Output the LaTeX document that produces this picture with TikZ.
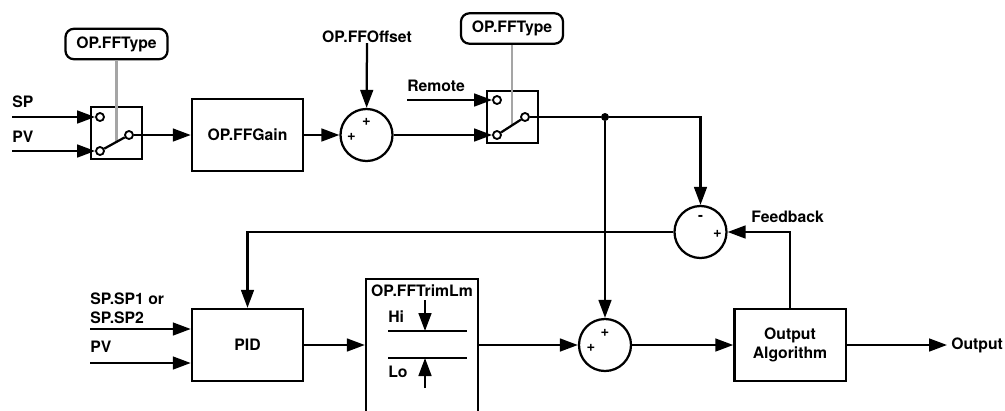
\documentclass[tikz,border=0pt]{standalone}
\usepackage{fontspec}
\setmainfont{TeX Gyre Heros}
\usepackage{tikz}
\usetikzlibrary{arrows.meta,calc}
\definecolor{ffgray}{RGB}{165,165,165}
\tikzset{
  ffblock/.style={draw, line width=1.6pt, minimum width=2.78cm, minimum height=1.8cm,
    inner sep=0pt, align=center},
  ffsum/.style={draw, circle, line width=1.6pt, minimum size=1.3cm, inner sep=0pt},
  ffsel/.style={draw, line width=1.6pt, rounded corners=6pt, minimum width=2.55cm,
    minimum height=0.76cm, inner sep=0pt},
  ffswitch/.style={draw, line width=1.6pt, minimum width=1.28cm, minimum height=1.3cm,
    inner sep=0pt},
  ffpin/.style={draw, circle, fill=white, line width=1.3pt, minimum size=0.2cm, inner sep=0pt},
  ffdot/.style={fill, circle, minimum size=0.2cm, inner sep=0pt},
  fflabel/.style={inner sep=0pt, align=left},
  ffsign/.style={inner sep=0pt, font=\bfseries\fontsize{10.5}{12}\selectfont},
  ffline/.style={line width=1.6pt},
  ffarrow/.style={-{Triangle[length=0.45cm,width=0.32cm]}, line width=1.6pt},
  ffctl/.style={line width=1.7pt, draw=ffgray}
}
\begin{document}
\begin{tikzpicture}[x=0.025cm, y=-0.025cm, font=\bfseries\fontsize{11.2}{13.8}\selectfont]
  \useasboundingbox (0,0) rectangle (1005,410);
  % feedforward path
  \node[ffsel] (typeA) at (116.5,44) {OP.FFType};
  \node[ffswitch] (swA) at (116.5,133) {};
  \node[ffpin] (swAi1) at (100,117) {};
  \node[ffpin] (swAi2) at (100,151) {};
  \node[ffpin] (swAo) at (129,135) {};
  \node[fflabel, anchor=west] (spA) at (12,102) {SP};
  \node[fflabel, anchor=west] (pvA) at (12,137) {PV};
  \coordinate (spAin) at (12,117);
  \coordinate (pvAin) at (12,151);
  \node[ffblock] (gain) at (247.5,135) {OP.FFGain};
  \node[ffsum] (sumA) at (366.5,135) {};
  \node[ffsign] at ($(sumA)+(0,-13)$) {+};
  \node[ffsign] at ($(sumA)+(-15,2)$) {+};
  \node[fflabel] (offs) at (367,37) {OP.FFOffset};
  \node[ffsel] (typeB) at (512,28.5) {OP.FFType};
  \node[ffswitch] (swB) at (512.5,117) {};
  \node[ffpin] (swBi1) at (497,100) {};
  \node[ffpin] (swBi2) at (497,135) {};
  \node[ffpin] (swBo) at (525,117) {};
  \node[fflabel, anchor=west] (remote) at (407,86) {Remote};
  \coordinate (remin) at (407,100);
  \node[ffdot] (jn) at (605,117) {};
  % control loop
  \node[ffsum] (sumB) at (700.5,232) {};
  \node[ffsign] at ($(sumB)+(0,-14)$) {-};
  \node[ffsign] at ($(sumB)+(17,2)$) {+};
  \node[fflabel, anchor=west] (fb) at (751,217) {Feedback};
  \node[ffblock] (pid) at (247.5,345) {PID};
  \node[fflabel, anchor=west] (sppid) at (90,308) {SP.SP1 or\\SP.SP2};
  \node[fflabel, anchor=west] (pvpid) at (90,347) {PV};
  \coordinate (spin) at (90,329);
  \coordinate (pvin) at (90,363);
  \node[ffblock, minimum width=2.8cm, minimum height=3.75cm] (trim) at (422,354) {};
  \node[fflabel] (trimlm) at (422,291) {OP.FFTrimLm};
  \node[fflabel, anchor=west] (hi) at (388,317) {Hi};
  \node[fflabel, anchor=west] (lo) at (388,372) {Lo};
  \coordinate (hiL) at (388,331);
  \coordinate (hiR) at (467,331);
  \coordinate (loL) at (388,358);
  \coordinate (loR) at (467,358);
  \coordinate (hiT) at (425,300);
  \coordinate (loB) at (425,388);
  \node[ffsum] (sumC) at (605,345) {};
  \node[ffsign] at ($(sumC)+(0,-12)$) {+};
  \node[ffsign] at ($(sumC)+(-14,3)$) {+};
  \node[ffblock] (outalg) at (790,345) {Output\\Algorithm};
  \coordinate (out) at (947,345);
  \node[fflabel, anchor=west] (outlbl) at (951,345) {Output};

  \coordinate (armA) at ($(swAi2)!0.55!(swAo)$);
  \coordinate (armB) at ($(swBi2)!0.55!(swBo)$);
  \draw[ffctl] (typeA) -- (typeA |- armA);
  \draw[ffctl] (typeB) -- (typeB |- armB);
  \draw[ffline] (swAi2) -- (swAo);
  \draw[ffline] (swBi2) -- (swBo);

  \draw[ffarrow] (spAin) -- (swAi1);
  \draw[ffarrow] (pvAin) -- (swAi2);
  \draw[ffarrow] (swAo) -- (gain);
  \draw[ffarrow] (gain) -- (sumA);
  \draw[ffarrow] (offs) -- (sumA);
  \draw[ffarrow] (sumA) -- (swBi2);
  \draw[ffarrow] (remin) -- (swBi1);
  \draw[ffline] (swBo) -- (jn);
  \draw[ffarrow] (jn) -| (sumB);
  \draw[ffarrow] (jn) -- (sumC);
  \draw[ffarrow] (outalg) |- (sumB);
  \draw[ffarrow] (sumB) -| (pid);
  \draw[ffarrow] (spin) -- (spin -| pid.west);
  \draw[ffarrow] (pvin) -- (pvin -| pid.west);
  \draw[ffarrow] (pid) -- (pid -| trim.west);
  \draw[ffline] (hiL) -- (hiR);
  \draw[ffline] (loL) -- (loR);
  \draw[ffarrow] (hiT) -- (hiT |- hiL);
  \draw[ffarrow] (loB) -- (loB |- loL);
  \draw[ffarrow] (trim.east |- sumC) -- (sumC);
  \draw[ffarrow] (sumC) -- (outalg);
  \draw[ffarrow] (outalg) -- (out);
\end{tikzpicture}
\end{document}
